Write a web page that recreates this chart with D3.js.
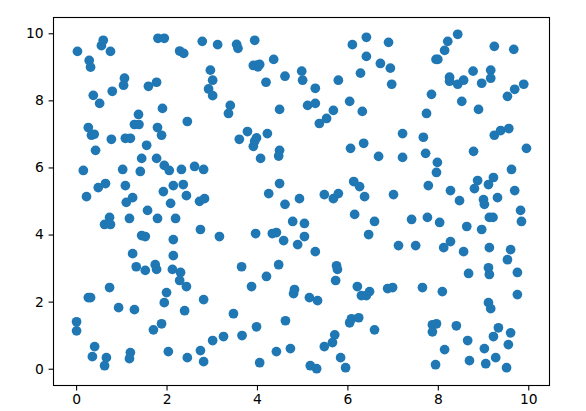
<!DOCTYPE html>
<html>
<head>
<meta charset="utf-8">
<script src="https://cdn.jsdelivr.net/npm/d3@7"></script>
<style>
html,body{margin:0;padding:0;background:#fff;}
svg{display:block;}
text{font-family:"DejaVu Sans",sans-serif;}
</style>
</head>
<body>
<svg id="chart" width="586" height="411"></svg>
<script>
const xValues = [
0.03,0.29,0.32,0.56,0.60,0.76,1.81,1.95,2.29,2.38,2.79,3.13,3.55,3.58,3.95,4.37,3.92,4.00,4.02,4.06,
2.97,3.02,2.93,3.02,4.62,4.20,1.07,1.05,1.60,1.78,0.38,0.80,0.52,1.91,3.41,3.37,4.50,1.38,1.29,1.39,
2.46,1.80,1.89,0.27,0.34,0.40,0.78,1.09,1.20,1.56,0.43,3.61,3.79,4.23,3.99,3.95,3.92,4.50,4.48,4.08,
1.45,1.78,1.95,2.06,0.16,1.03,1.42,2.33,2.62,2.82,0.49,0.65,1.09,2.15,2.37,1.93,2.44,0.23,1.25,1.11,
2.09,2.73,2.84,4.50,4.26,4.62,
4.99,5.01,5.29,5.12,5.29,5.80,6.29,6.11,6.42,6.42,6.91,6.73,6.95,6.98,6.05,5.69,5.54,5.38,6.33,7.22,
6.07,6.36,6.69,7.22,7.68,7.73,7.99,7.97,7.79,6.14,6.27,6.38,7.02,5.49,5.69,5.80,4.94,8.28,8.48,8.79,
8.78,8.22,8.44,8.15,7.96,8.00,8.26,8.26,8.44,8.57,8.97,9.17,9.17,9.25,9.68,9.90,9.70,9.54,7.86,8.53,
8.90,7.75,9.25,9.39,9.57,9.96,9.63,8.88,9.23,9.12,8.81,9.70,9.32,9.01,9.03,
1.58,0.74,0.63,0.76,1.18,1.80,2.20,2.75,3.17,3.97,1.45,1.53,2.15,1.25,2.15,1.75,1.78,1.33,1.53,2.13,
2.31,2.29,2.44,3.66,4.21,3.88,4.48,4.34,4.43,4.59,4.90,0.74,0.27,0.32,2.00,1.95,2.82,0.94,1.29,2.40,
0.01,0.01,1.89,1.71,3.48,3.99,4.63,3.67,3.26,3.02,0.41,0.36,0.67,0.63,1.20,1.18,2.04,2.46,2.75,2.82,
4.06,4.43,4.81,4.83,
6.16,6.60,4.79,5.05,5.05,5.29,6.47,7.42,7.77,8.04,8.64,8.97,9.14,9.22,9.83,9.85,7.13,7.51,8.13,8.28,
8.57,9.14,9.61,9.54,5.76,5.78,5.74,9.12,9.14,8.68,9.76,6.22,6.49,6.42,6.31,6.89,7.00,7.66,8.10,9.76,
9.12,9.17,5.16,5.34,6.05,6.09,6.25,6.60,5.72,5.67,5.49,4.74,5.85,5.96,5.18,5.32,7.88,7.97,7.88,8.41,
9.34,9.61,9.23,8.66,9.56,9.03,8.15,9.28,8.70,9.06,7.95,9.52
];
const yValues = [
9.46,9.19,8.99,9.63,9.79,9.46,9.85,9.85,9.47,9.40,9.76,9.66,9.67,9.55,9.79,9.22,9.04,9.05,9.00,9.07,
8.90,8.60,8.34,8.14,8.72,8.54,8.66,8.45,8.42,8.54,8.15,8.27,7.91,7.76,7.85,7.61,7.73,7.58,7.28,7.28,
7.37,7.19,6.96,7.19,6.96,6.99,6.84,6.87,6.87,6.66,6.51,6.84,7.07,7.01,6.88,6.78,6.63,6.51,6.34,6.27,
6.27,6.27,6.06,5.91,5.91,5.94,5.88,5.94,6.03,5.94,5.40,5.52,5.46,5.46,5.49,5.28,5.16,5.13,5.10,4.96,
4.93,4.99,5.07,5.52,5.22,4.90,
8.87,8.60,8.36,7.85,7.91,8.60,8.81,9.66,9.88,9.31,9.73,9.10,8.96,8.48,7.97,7.70,7.46,7.31,7.67,7.01,
6.57,6.72,6.33,6.30,6.90,6.42,6.15,5.85,5.46,5.58,5.43,5.13,5.19,5.19,5.07,5.22,5.07,5.31,5.01,6.48,
8.87,9.76,9.97,9.49,9.22,9.22,8.69,8.57,8.48,8.60,8.51,8.90,8.66,9.61,9.52,8.48,8.33,8.12,8.18,7.97,
7.73,7.61,6.96,7.10,7.16,6.57,5.94,5.61,5.70,5.49,5.37,5.31,5.10,5.04,4.90,
4.72,4.51,4.30,4.30,4.48,4.48,4.48,4.15,3.94,4.03,3.97,3.94,3.85,3.43,3.37,3.10,2.96,3.04,2.93,2.96,
2.87,2.63,2.45,3.04,2.75,2.45,3.10,4.03,4.06,3.82,3.70,2.42,2.12,2.12,2.27,1.97,2.06,1.82,1.76,1.73,
1.40,1.13,1.34,1.16,1.64,1.25,1.43,0.99,0.96,0.84,0.66,0.36,0.33,0.09,0.48,0.30,0.51,0.33,0.54,0.21,
0.18,0.51,2.24,2.36,
4.60,4.39,4.39,4.33,3.94,3.49,4.00,4.45,4.51,4.36,4.24,4.15,4.51,4.51,4.72,4.39,3.67,3.67,3.61,3.79,
3.49,3.61,3.55,3.25,3.07,2.96,2.63,3.01,2.81,2.84,2.87,2.45,2.30,2.18,2.18,2.39,2.42,2.42,2.30,2.21,
1.97,1.79,2.12,2.03,1.37,1.49,1.52,1.16,1.01,0.78,0.66,0.60,0.33,0.03,0.09,0.00,1.31,1.34,1.10,1.28,
1.22,1.07,0.96,0.84,0.72,0.60,0.57,0.33,0.24,0.15,0.12,0.03
];
const xTicks = [0,2,4,6,8,10];
const yTicks = [0,2,4,6,8,10];

const svg = d3.select("#chart");
const left = 53.5, right = 549.5, top_ = 17.5, bottom = 385.5;
const x = d3.scaleLinear().domain([-0.5,10.47]).range([left,right]);
const y = d3.scaleLinear().domain([-0.5,10.47]).range([bottom,top_]);
const points = d3.zip(xValues,yValues);

svg.append("g").selectAll("circle").data(points).join("circle")
  .attr("cx",d=>x(d[0])).attr("cy",d=>y(d[1])).attr("r",4.86).attr("fill","#1f77b4");

const style = g => {
  g.select(".domain").remove();
  g.selectAll("line").attr("stroke","#000").attr("stroke-width",1.1);
  g.selectAll("text").attr("font-size","13.89px").attr("font-family","'DejaVu Sans'").attr("fill","#000");
};
svg.append("g").attr("transform",`translate(0,${bottom})`)
  .call(d3.axisBottom(x).tickValues(xTicks).tickSize(4.9).tickPadding(4.2).tickFormat(d3.format("d"))).call(style);
svg.append("g").attr("transform",`translate(${left},0)`)
  .call(d3.axisLeft(y).tickValues(yTicks).tickSize(4.9).tickPadding(4.9).tickFormat(d3.format("d"))).call(style);
svg.append("rect").attr("x",left).attr("y",top_).attr("width",right-left).attr("height",bottom-top_)
  .attr("fill","none").attr("stroke","#000").attr("stroke-width",1.1);
</script>
</body>
</html>
